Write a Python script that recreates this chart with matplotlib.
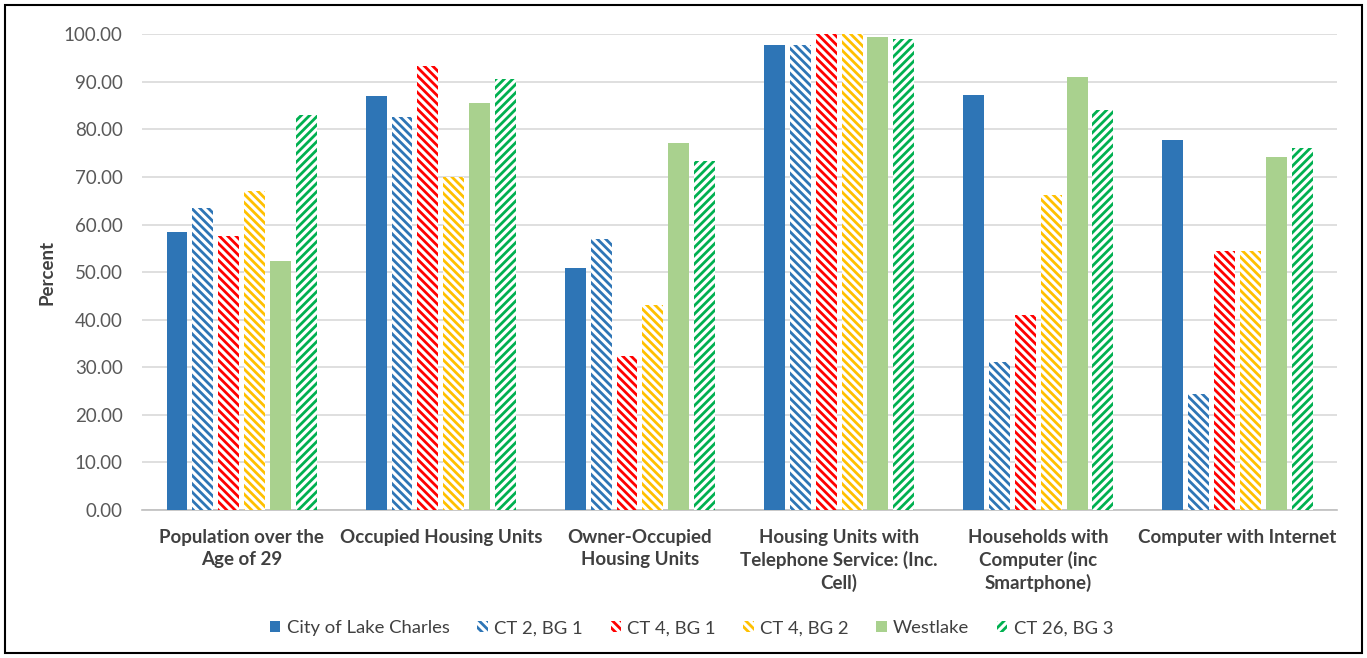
import matplotlib
matplotlib.use("Agg")
import matplotlib.pyplot as plt
import numpy as np
from matplotlib.patches import Rectangle

categories = [
    "Population over the\nAge of 29",
    "Occupied Housing Units",
    "Owner-Occupied\nHousing Units",
    "Housing Units with\nTelephone Service: (Inc.\nCell)",
    "Households with\nComputer (inc\nSmartphone)",
    "Computer with Internet",
]
series_names = ["City of Lake Charles", "CT 2, BG 1", "CT 4, BG 1",
                "CT 4, BG 2", "Westlake", "CT 26, BG 3"]
city_lake_charles = [58.4, 87.1, 50.8, 97.8, 87.3, 77.7]
ct2_bg1 = [63.5, 82.5, 57.0, 97.8, 31.0, 24.3]
ct4_bg1 = [57.5, 93.3, 32.3, 100.0, 41.0, 54.4]
ct4_bg2 = [67.0, 70.0, 43.0, 100.0, 66.2, 54.4]
westlake = [52.3, 85.6, 77.1, 99.4, 91.0, 74.2]
ct26_bg3 = [83.0, 90.5, 73.3, 99.0, 84.0, 76.0]
yticks = np.arange(0, 101, 10)

series = [city_lake_charles, ct2_bg1, ct4_bg1, ct4_bg2, westlake, ct26_bg3]
colors = ["#2E75B6", "#2E75B6", "#FF0000", "#FFC000", "#A9D18E", "#00B050"]
hatches = [None, "\\\\\\\\", "\\\\\\\\", "\\\\\\\\", None, "////"]

plt.rcParams["font.family"] = ["Lato", "DejaVu Sans"]
plt.rcParams["hatch.linewidth"] = 2.0

fig = plt.figure(figsize=(13.67, 6.58), dpi=100)
ax = fig.add_axes([0.104, 0.225, 0.874, 0.723])

x = np.arange(len(categories))
step = 0.13
width = 0.105
handles = []
for i, (vals, col, h) in enumerate(zip(series, colors, hatches)):
    pos = x + (i - 2.5) * step
    if h is None:
        b = ax.bar(pos, vals, width, color=col, linewidth=0, label=series_names[i], zorder=3)
    else:
        b = ax.bar(pos, vals, width, facecolor="white", edgecolor=col, hatch=h,
                   linewidth=0, label=series_names[i], zorder=3)
    handles.append(b)

ax.set_ylim(0, 100)
ax.set_xlim(-0.5, len(categories) - 0.5)
ax.set_yticks(yticks)
ax.set_yticklabels([f"{v:.2f}" for v in yticks], fontsize=13.5, color="#595959")
ax.set_xticks(x)
ax.set_xticklabels(categories, fontsize=13.5, fontweight="bold", color="#404040",
                   linespacing=1.3)
ax.tick_params(axis="x", length=0, pad=14)
ax.tick_params(axis="y", length=0, pad=14)
ax.grid(axis="y", color="#D9D9D9", linewidth=1.2, zorder=0)
for s in ["top", "right", "left"]:
    ax.spines[s].set_visible(False)
ax.spines["bottom"].set_color("#BFBFBF")
ax.spines["bottom"].set_linewidth(1.2)
ax.set_ylabel("Percent", fontsize=13.5, fontweight="bold", color="#404040", labelpad=6)

fig.legend(handles=handles, labels=series_names, loc="center", bbox_to_anchor=(0.506, 0.045),
           ncol=6, frameon=False, fontsize=13.3, labelcolor="#404040",
           handlelength=0.55, handleheight=0.55, handletextpad=0.35, columnspacing=1.5)

fig.patches.append(Rectangle((0.004, 0.008), 0.992, 0.984, transform=fig.transFigure,
                             fill=False, edgecolor="black", linewidth=1.5))

fig.savefig("out.png", dpi=100)
